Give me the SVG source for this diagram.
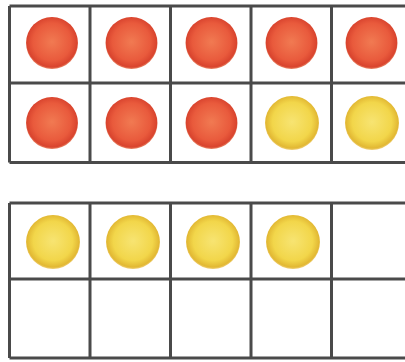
<svg xmlns="http://www.w3.org/2000/svg" width="405" height="362" viewBox="0 0 405 362">
<defs>
<radialGradient id="red" cx="50%" cy="48%" r="52%">
<stop offset="0" stop-color="#f17a52"/>
<stop offset="0.7" stop-color="#e95a3c"/>
<stop offset="0.93" stop-color="#d9442e"/>
<stop offset="1" stop-color="#e98a6a"/>
</radialGradient>
<radialGradient id="yel" cx="50%" cy="48%" r="52%">
<stop offset="0" stop-color="#f7e472"/>
<stop offset="0.7" stop-color="#f2d64a"/>
<stop offset="0.93" stop-color="#e2b833"/>
<stop offset="1" stop-color="#f0d07a"/>
</radialGradient>
<style>
.grid{fill:none;stroke:#4a4a4a;stroke-width:3}
.r{fill:url(#red)}
.y{fill:url(#yel)}
</style>
</defs>
<rect width="405" height="362" fill="#ffffff"/>
<g id="frame-top">
<path class="grid" d="M9.5 6 H410 M9.5 83 H410 M9.5 162.5 H410 M9.5 6 V162.5 M90 6 V162.5 M170.5 6 V162.5 M251 6 V162.5 M331.5 6 V162.5"/>
</g>
<g id="counters-top">
<circle class="r" cx="52" cy="43" r="26"/>
<circle class="r" cx="131.5" cy="43" r="26"/>
<circle class="r" cx="211.5" cy="43" r="26"/>
<circle class="r" cx="291.5" cy="43" r="26"/>
<circle class="r" cx="371.5" cy="43" r="26"/>
<circle class="r" cx="52" cy="123" r="26"/>
<circle class="r" cx="131.5" cy="123" r="26"/>
<circle class="r" cx="211.5" cy="123" r="26"/>
<circle class="y" cx="292" cy="123" r="27"/>
<circle class="y" cx="372" cy="123" r="27"/>
</g>
<g id="frame-bottom">
<path class="grid" d="M9.5 203 H410 M9.5 279 H410 M9.5 358 H410 M9.5 203 V358 M90 203 V358 M170.5 203 V358 M251 203 V358 M331.5 203 V358"/>
</g>
<g id="counters-bottom">
<circle class="y" cx="53" cy="242" r="27"/>
<circle class="y" cx="133" cy="242" r="27"/>
<circle class="y" cx="213" cy="242" r="27"/>
<circle class="y" cx="293" cy="242" r="27"/>
</g>
</svg>
